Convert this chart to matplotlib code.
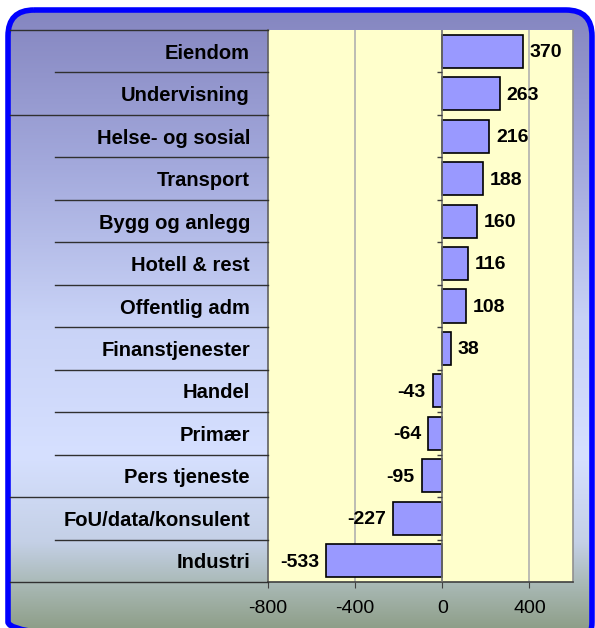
import numpy as np
import matplotlib.pyplot as plt
import matplotlib.transforms as mtransforms
from matplotlib.patches import FancyBboxPatch
from matplotlib.colors import LinearSegmentedColormap

plt.rcParams['font.family'] = ['Liberation Sans', 'DejaVu Sans']

bransjer = ['Eiendom', 'Undervisning', 'Helse- og sosial', 'Transport', 'Bygg og anlegg',
            'Hotell & rest', 'Offentlig adm', 'Finanstjenester', 'Handel', 'Primær',
            'Pers tjeneste', 'FoU/data/konsulent', 'Industri']
endring = [370, 263, 216, 188, 160, 116, 108, 38, -43, -64, -95, -227, -533]
xticks = [-800, -400, 0, 400]

W, H = 595, 628
fig = plt.figure(figsize=(W / 100, H / 100), dpi=100)
fig.patch.set_facecolor('white')

# bakgrunn med gradient og avrundet blå ramme (koordinater i piksler, y nedover)
bg = fig.add_axes([0, 0, 1, 1])
bg.axis('off')
cmap = LinearSegmentedColormap.from_list('bg', [
    (0.0, '#8586c0'), (0.25, '#a3a9dc'), (0.5, '#c8d2f6'), (0.72, '#d6e0ff'),
    (0.86, '#c4d0e6'), (0.93, '#a8b8b4'), (1.0, '#8e9e88')])
grad = np.linspace(0, 1, 256).reshape(-1, 1)
im = bg.imshow(grad, cmap=cmap, extent=[8, 592, 630, 10], aspect='auto', zorder=1)
bg.set_xlim(0, W)
bg.set_ylim(H, 0)
box = FancyBboxPatch((8, 10), 584, 638, boxstyle='round,pad=0,rounding_size=26',
                     facecolor='none', edgecolor='#0000ff', lw=4, zorder=3)
bg.add_patch(box)
im.set_clip_path(box)

ax = fig.add_axes([268 / W, 1 - 582 / H, (573 - 268) / W, (582 - 30) / H])
ax.set_facecolor('#ffffcc')
n = len(bransjer)
ypos = np.arange(n)[::-1]
ax.barh(ypos, endring, height=0.78, color='#9999ff', edgecolor='black', lw=1.2, zorder=3)

for y, v in zip(ypos, endring):
    if v >= 0:
        ax.annotate(str(v), (v, y), xytext=(5, -1), textcoords='offset points',
                    ha='left', va='center', fontsize=14, fontweight='bold')
    else:
        ax.annotate(str(v), (v, y), xytext=(-5, -1), textcoords='offset points',
                    ha='right', va='center', fontsize=14, fontweight='bold')

ax.set_xlim(-800, 600)
ax.set_ylim(-0.5, n - 0.5)
ax.set_xticks(xticks)
ax.set_xticklabels([str(t) for t in xticks], fontsize=14)
ax.tick_params(axis='x', length=4, color='#404040', pad=9)
ax.set_yticks(ypos)
ax.set_yticklabels(bransjer, fontsize=14.5, fontweight='bold')
ax.tick_params(axis='y', length=0, pad=13)
for t in xticks[1:]:
    if t != 0:
        ax.axvline(t, color='#b0b0b0', lw=1.2, zorder=1)
ax.axvline(0, color='#707070', lw=1.2, zorder=4)
grenser = np.arange(n + 1) - 0.5
ax.hlines(grenser[1:-1], -22, 0, color='#404040', lw=1, zorder=4)

ax.spines['top'].set_visible(False)
ax.spines['right'].set_color('#909090')
ax.spines['left'].set_color('#606060')
ax.spines['bottom'].set_color('#404040')
for s in ax.spines.values():
    s.set_linewidth(1.2)

# skillelinjer i kategorikolonnen
trans = mtransforms.blended_transform_factory(fig.transFigure, ax.transData)
hele = {0, 2, 11, 13}
for i, g in enumerate(grenser[::-1]):
    x0 = 10 / W if i in hele else 55 / W
    ax.plot([x0, 268 / W], [g, g], transform=trans, color='#303030', lw=1,
            clip_on=False, zorder=5)

fig.savefig('out.png', dpi=100)
